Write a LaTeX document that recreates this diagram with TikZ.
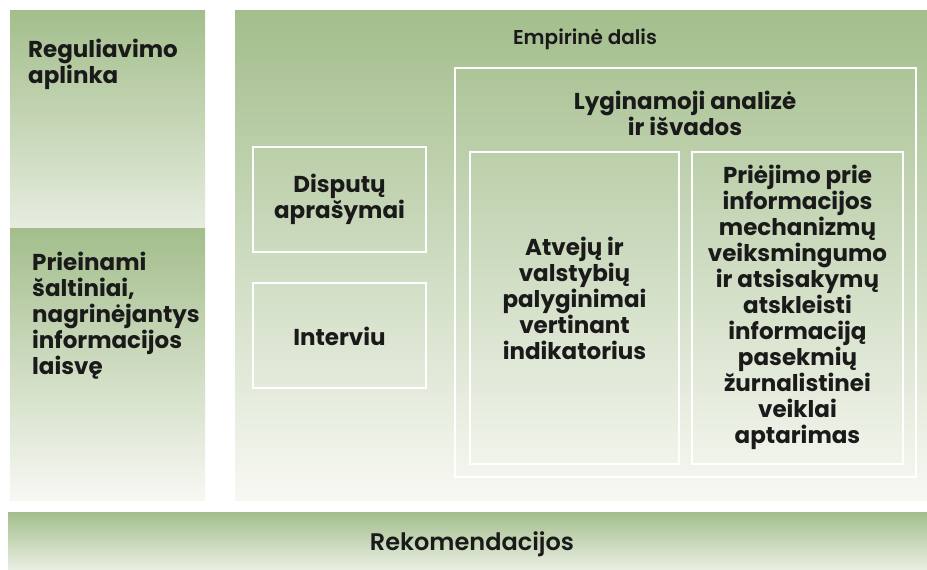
\documentclass[tikz,border=0pt]{standalone}
\usepackage{fontspec}
\setmainfont{Poppins}
\newfontfamily\medfont{Poppins SemiBold}
\usetikzlibrary{positioning}
\definecolor{lgreen}{RGB}{163,190,140}
\definecolor{lmid}{RGB}{184,204,165}
\definecolor{lpale}{RGB}{247,248,243}
\definecolor{ltext}{RGB}{26,26,26}

\begin{document}
\begin{tikzpicture}[x=1pt,y=-1pt,
  frame/.style={draw=white,line width=2pt},
  label/.style={font=\bfseries\fontsize{23}{26}\selectfont,text=ltext,align=center,inner sep=0pt},
  title/.style={font=\medfont\fontsize{20}{23}\selectfont,text=ltext,inner sep=0pt}]
\useasboundingbox (0,0) rectangle (927,570);

% Left column: regulations and sources
\shade[top color=lgreen,bottom color=lpale!80!lgreen] (10,10) rectangle (205,228);
\shade[top color=lgreen,bottom color=lpale] (10,228) rectangle (205,500);
\node[label,align=left,anchor=north west] (reg) at (28,39) {Reguliavimo\\aplinka};
\node[label,align=left,anchor=north west] (src) at (32,252) {Prieinami\\šaltiniai,\\nagrinėjantys\\informacijos\\laisvę};

% Empirical part
\shade[top color=lgreen,middle color=lmid,bottom color=lpale] (235,10) rectangle (927,500);
\node[title] (emp) at (585,39) {Empirinė dalis};
\draw[frame] (253,147) rectangle (426,252);
\node[label] (disp) at (339.5,199.5) {Disputų\\aprašymai};
\draw[frame] (253,283) rectangle (426,388);
\node[label] (int) at (339.5,336) {Interviu};

% Comparative analysis
\draw[frame] (455,68) rectangle (916,477);
\node[label] (lyg) at (685,113) {Lyginamoji analizė\\ir išvados};
\draw[frame] (470,152) rectangle (679,464);
\node[label] (atv) at (574.5,298) {Atvejų ir\\valstybių\\palyginimai\\vertinant\\indikatorius};
\draw[frame] (692,152) rectangle (903,464);
\node[label] (pri) at (797.5,307) {Priėjimo prie\\informacijos\\mechanizmų\\veiksmingumo\\ir atsisakymų\\atskleisti\\informaciją\\pasekmių\\žurnalistinei\\veiklai\\aptarimas};

% Recommendations
\shade[top color=lgreen,bottom color=lpale!85!lgreen] (8,512) rectangle (927,570);
\node[title,font=\medfont\fontsize{24}{27}\selectfont] (rek) at (472,544) {Rekomendacijos};
\end{tikzpicture}
\end{document}
